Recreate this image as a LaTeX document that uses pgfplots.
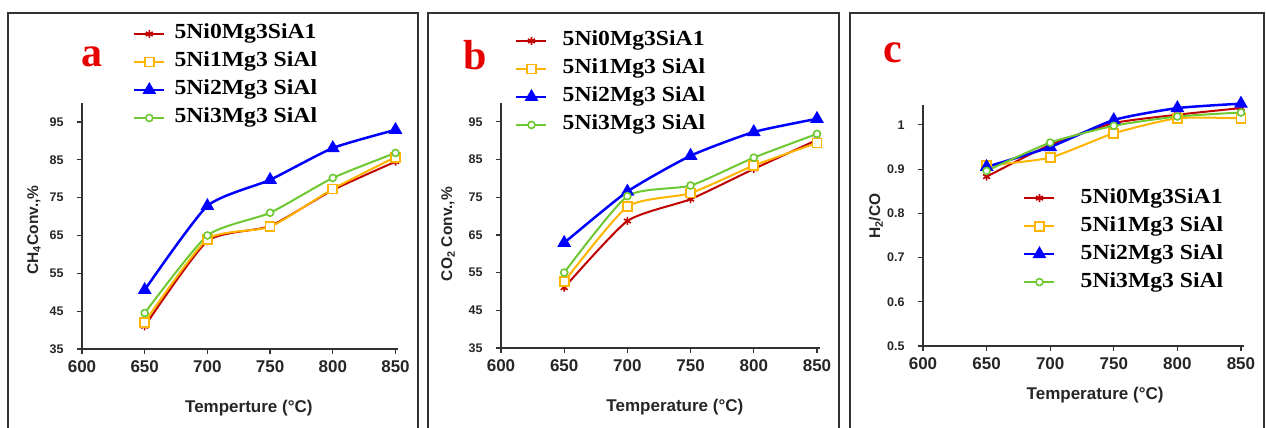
\documentclass[border=0pt]{standalone}
\usepackage{pgfplots}
\pgfplotsset{compat=1.18}
\usepackage{fontspec}
\setmainfont{Liberation Sans}
\newfontfamily\legfont[FakeStretch=1.1]{Liberation Serif}
\newfontfamily\letfont{Liberation Serif}
\definecolor{cred}{RGB}{192,0,0}
\definecolor{corange}{RGB}{255,180,0}
\definecolor{cblue}{RGB}{0,0,255}
\definecolor{cgreen}{RGB}{110,200,50}
\definecolor{cletter}{RGB}{230,0,0}
\definecolor{cframe}{RGB}{50,50,50}
\pgfplotsset{
  panel/.style={
    scale only axis, clip=false,
    axis lines=left,
    axis line style={-, line width=1.6pt, color=cframe},
    tick align=outside, major tick length=5pt,
    tick style={line width=1.2pt, color=cframe},
    xmin=600, xmax=852, xtick={600,650,...,850},
    /pgf/number format/assume math mode=true,
    xticklabel style={font=\bfseries\fontsize{17}{17}\selectfont, text=black!85, yshift=-3pt},
    yticklabel style={font=\bfseries\fontsize{12.5}{12.5}\selectfont, text=black!85, xshift=-10pt},
    label style={font=\bfseries\fontsize{17}{17}\selectfont, text=black!85},
    ylabel style={font=\bfseries\fontsize{15.5}{15.5}\selectfont},
    legend cell align=left,
    legend image code/.code={\draw[mark repeat=2,mark phase=2,##1] plot coordinates {(0pt,0pt) (15pt,0pt) (30pt,0pt)};},
    legend style={draw=none, fill=none, inner sep=0pt, row sep=8pt,
      font=\legfont\bfseries\fontsize{21.5}{21.5}\selectfont,
      nodes={inner sep=0pt, text height=15pt, text depth=5pt}},
  },
  sred/.style={color=cred, line width=2pt, smooth, tension=0.35, mark=asterisk, mark size=4pt, mark options={solid, line width=1.6pt}},
  sorange/.style={color=corange, line width=2pt, smooth, tension=0.35, mark=square*, mark size=4.5pt, mark options={solid, fill=white, line width=1.8pt}},
  sblue/.style={color=cblue, line width=2.5pt, smooth, tension=0.35, mark=triangle*, mark size=5.5pt, mark options={solid, fill=cblue}},
  sgreen/.style={color=cgreen, line width=2pt, smooth, tension=0.35, mark=*, mark size=3.5pt, mark options={solid, fill=white, line width=1.6pt}},
}
\begin{document}
\begin{tikzpicture}
\useasboundingbox (0pt,0pt) rectangle (1266pt,428pt);
% panel frames
\draw[line width=2pt, cframe] (8pt,-10pt) -- (8pt,415pt) -- (418pt,415pt) -- (418pt,-10pt);
\draw[line width=2pt, cframe] (428pt,-10pt) -- (428pt,415pt) -- (839pt,415pt) -- (839pt,-10pt);
\draw[line width=2pt, cframe] (850pt,-10pt) -- (850pt,415pt) -- (1264pt,415pt) -- (1264pt,-10pt);
% panel a
\begin{axis}[panel, at={(82pt,79pt)}, anchor=south west, width=316pt, height=246pt,
  ymin=35, ymax=100, ytick={35,45,...,95},
  xlabel={Temperture (°C)}, ylabel={CH\textsubscript{4}Conv.,\%},
  xlabel style={at={(axis description cs:0.528,-0.240)}, anchor=center},
  ylabel style={at={(axis description cs:-0.152,0.484)}, anchor=center},
  legend style={at={(0.161,1.322)}, anchor=north west, /tikz/every odd column/.append style={column sep=9pt}}]
\addplot[sred] coordinates {(650,41) (700,63.5) (750,67.5) (800,77) (850,84.5)};
\addlegendentry{5Ni0Mg3SiA1}
\addplot[sorange] coordinates {(650,42.1) (700,64) (750,67.3) (800,77.3) (850,85.7)};
\addlegendentry{5Ni1Mg3 SiAl}
\addplot[sblue] coordinates {(650,50.6) (700,72.8) (750,79.7) (800,88.1) (850,92.9)};
\addlegendentry{5Ni2Mg3 SiAl}
\addplot[sgreen] coordinates {(650,44.5) (700,65) (750,71) (800,80.2) (850,86.8)};
\addlegendentry{5Ni3Mg3 SiAl}
\end{axis}
% panel b
\begin{axis}[panel, at={(501pt,80pt)}, anchor=south west, width=318.5pt, height=245pt,
  ymin=35, ymax=100, ytick={35,45,...,95},
  xlabel={Temperature (°C)}, ylabel={CO\textsubscript{2} Conv.,\%},
  xlabel style={at={(axis description cs:0.546,-0.241)}, anchor=center},
  ylabel style={at={(axis description cs:-0.166,0.465)}, anchor=center},
  legend style={at={(0.044,1.295)}, anchor=north west, /tikz/every odd column/.append style={column sep=15pt}}]
\addplot[sred] coordinates {(650,51) (700,68.7) (750,74.5) (800,82.5) (850,90.2)};
\addlegendentry{5Ni0Mg3SiA1}
\addplot[sorange] coordinates {(650,52.6) (700,72.5) (750,76.1) (800,83.4) (850,89.4)};
\addlegendentry{5Ni1Mg3 SiAl}
\addplot[sblue] coordinates {(650,62.9) (700,76.5) (750,86) (800,92.3) (850,95.8)};
\addlegendentry{5Ni2Mg3 SiAl}
\addplot[sgreen] coordinates {(650,55) (700,75.3) (750,78.1) (800,85.5) (850,91.8)};
\addlegendentry{5Ni3Mg3 SiAl}
\end{axis}
% panel c
\begin{axis}[panel, at={(923pt,82pt)}, anchor=south west, width=320.5pt, height=241pt,
  ymin=0.5, ymax=1.045, ytick={0.5,0.6,...,1.0},
  xlabel={Temperature (°C)}, ylabel={H\textsubscript{2}/CO},
  xlabel style={at={(axis description cs:0.537,-0.203)}, anchor=center},
  ylabel style={at={(axis description cs:-0.147,0.539)}, anchor=center},
  legend style={at={(0.312,0.656)}, anchor=north west, /tikz/every odd column/.append style={column sep=25pt}}]
\addplot[sred] coordinates {(650,0.883) (700,0.955) (750,1.004) (800,1.023) (850,1.038)};
\addlegendentry{5Ni0Mg3SiA1}
\addplot[sorange] coordinates {(650,0.908) (700,0.926) (750,0.981) (800,1.015) (850,1.015)};
\addlegendentry{5Ni1Mg3 SiAl}
\addplot[sblue] coordinates {(650,0.905) (700,0.95) (750,1.011) (800,1.038) (850,1.048)};
\addlegendentry{5Ni2Mg3 SiAl}
\addplot[sgreen] coordinates {(650,0.896) (700,0.96) (750,0.998) (800,1.019) (850,1.028)};
\addlegendentry{5Ni3Mg3 SiAl}
\end{axis}
% panel letters
\node[anchor=base, text=cletter, font=\letfont\bfseries\fontsize{42}{42}\selectfont] at (92pt,361pt) {a};
\node[anchor=base, text=cletter, font=\letfont\bfseries\fontsize{42}{42}\selectfont] at (475pt,358pt) {b};
\node[anchor=base, text=cletter, font=\letfont\bfseries\fontsize{42}{42}\selectfont] at (893pt,365pt) {c};
\end{tikzpicture}
\end{document}
